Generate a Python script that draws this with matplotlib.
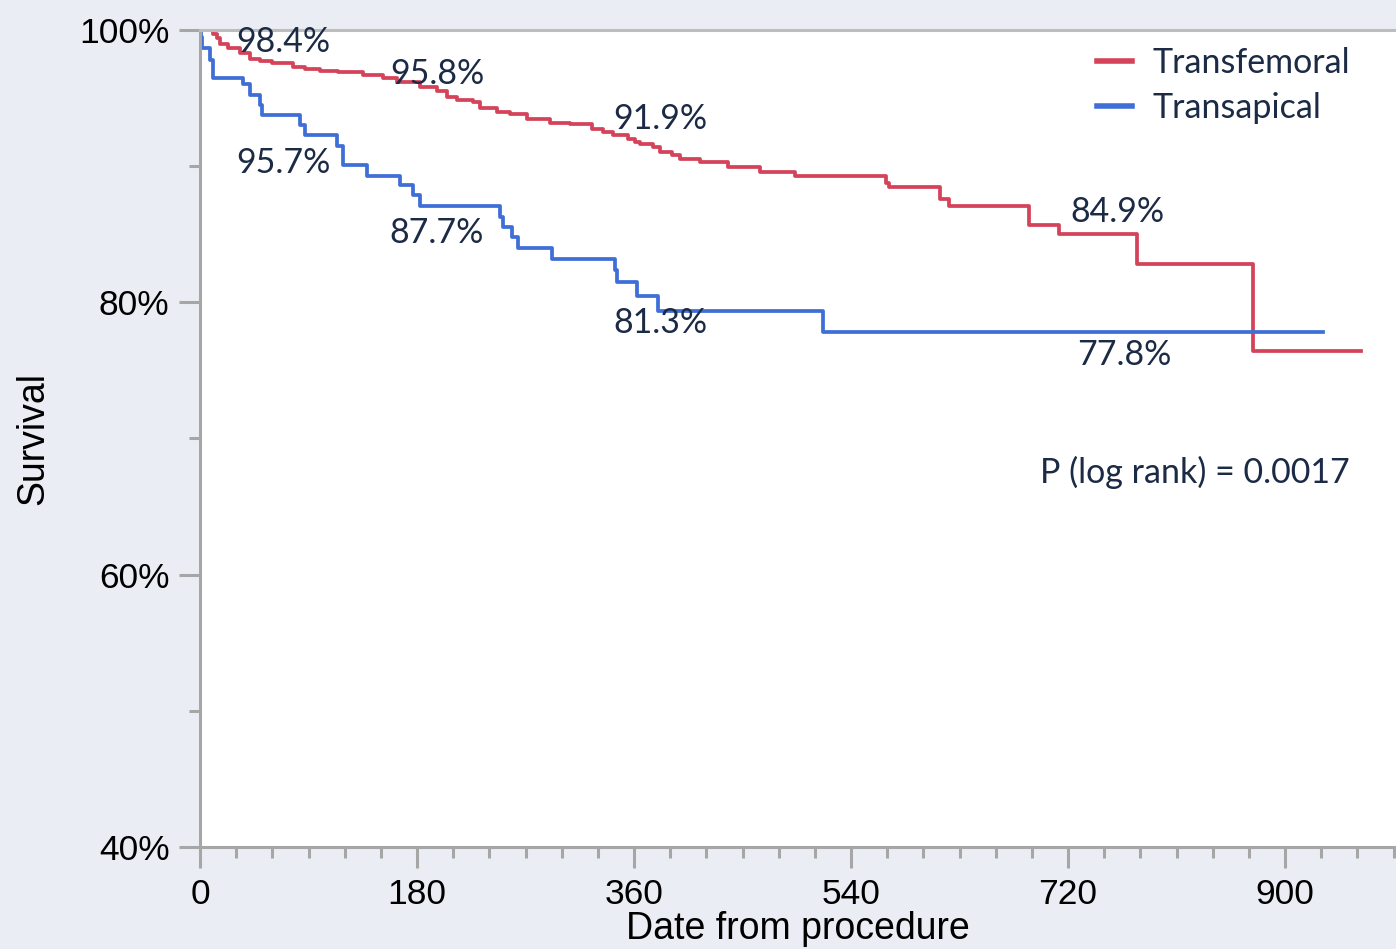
import numpy as np
import matplotlib
matplotlib.use("Agg")
import matplotlib.pyplot as plt
from matplotlib.ticker import MultipleLocator, FixedLocator

# Kaplan-Meier steps (days, survival %)
tf_days = [0, 10.8, 13.9, 16.6, 23.2, 33.2, 41.5, 49.8, 59.7, 77.1, 87.1, 99.5,
           114.5, 135.2, 151.8, 163.4, 182.5, 196.6, 204.9, 213.2, 226.4, 232.3,
           246.4, 257.1, 271.2, 290.3, 306.9, 325.2, 334.3, 342.6, 355.0, 360.8,
           365.0, 375.7, 381.6, 391.5, 398.1, 414.7, 438.0, 464.5, 493.5, 569.0,
           571.5, 613.8, 621.3, 687.6, 712.5, 777.0, 873.4, 963.0]
tf_surv = [100, 99.7, 99.4, 99.0, 98.7, 98.3, 97.9, 97.7, 97.55, 97.3, 97.1, 97.0,
           96.9, 96.7, 96.5, 96.2, 95.8, 95.5, 95.1, 94.85, 94.7, 94.3,
           94.0, 93.8, 93.5, 93.2, 93.1, 92.7, 92.5, 92.3, 92.0, 91.8,
           91.6, 91.4, 91.05, 90.8, 90.5, 90.3, 89.95, 89.6, 89.3, 88.75,
           88.5, 87.6, 87.1, 85.7, 85.0, 82.8, 76.4, 76.4]

ta_days = [0, 0.8, 1.7, 8.3, 10.4, 35.7, 41.5, 49.8, 51.4, 82.9, 87.1, 113.6,
           118.6, 138.5, 165.9, 176.7, 182.5, 248.8, 251.3, 258.8, 263.8, 292.0,
           344.2, 345.9, 362.5, 379.9, 516.8, 931.5]
ta_surv = [100, 99.5, 98.7, 97.8, 96.5, 96.0, 95.2, 94.5, 93.75, 93.0, 92.3, 91.5,
           90.1, 89.3, 88.6, 87.9, 87.1, 86.3, 85.5, 84.8, 84.0, 83.2,
           82.4, 81.5, 80.5, 79.4, 77.8, 77.8]

# annotation labels: (text, day, survival)
tf_labels = [("98.4%", 69, 99.1), ("95.8%", 197, 96.8), ("91.9%", 382, 93.5), ("84.9%", 761, 86.6)]
ta_labels = [("95.7%", 69, 90.2), ("87.7%", 196, 85.1), ("81.3%", 382, 78.5), ("77.8%", 767, 76.1)]
p_text = "P (log rank) = 0.0017"

red = "#d4435a"
blue = "#3f6fd6"
grey = "#a6a6a6"
navy = "#1b2a45"

fig = plt.figure(figsize=(13.96, 9.49), dpi=100, facecolor="#eaedf3")
ax = fig.add_axes([200 / 1396, 1 - 847 / 949, 1 - 200 / 1396, (847 - 30) / 949])
ax.set_facecolor("white")

ax.step(tf_days, tf_surv, where="post", color=red, lw=2.7, label="Transfemoral")
ax.step(ta_days, ta_surv, where="post", color=blue, lw=2.7, label="Transapical")

ax.set_xlim(0, 992)
ax.set_ylim(40, 100)

ax.xaxis.set_major_locator(FixedLocator([0, 180, 360, 540, 720, 900]))
ax.xaxis.set_minor_locator(MultipleLocator(30))
ax.yaxis.set_major_locator(FixedLocator([40, 60, 80, 100]))
ax.yaxis.set_minor_locator(FixedLocator([50, 70, 90]))
ax.set_yticklabels(["40%", "60%", "80%", "100%"])

ax.tick_params(axis="both", which="major", length=15, width=2.2, color=grey,
               labelsize=25.5, pad=7, labelcolor="black")
ax.tick_params(axis="both", which="minor", length=8, width=2.2, color=grey)
for lab in ax.get_xticklabels() + ax.get_yticklabels():
    lab.set_fontfamily("Liberation Sans")

for side in ["left", "bottom", "top"]:
    ax.spines[side].set_color(grey)
    ax.spines[side].set_linewidth(2.2)
ax.spines["top"].set_color("#bdbdbd")
ax.spines["right"].set_visible(False)

ax.set_ylabel("Survival", fontsize=27, family="Liberation Sans", labelpad=20)
ax.set_xlabel("Date from procedure", fontsize=27, family="Liberation Sans", labelpad=0)

for txt, x, y in tf_labels + ta_labels:
    ax.text(x, y, txt, fontsize=24.5, family="Lato", color=navy, ha="center", va="center")
ax.text(697, 67.5, p_text, fontsize=24.5, family="Lato", color=navy, ha="left", va="center")

leg = ax.legend(loc="upper left", bbox_to_anchor=(0.724, 1.017), frameon=False,
                prop={"family": "Lato", "size": 24.5}, handlelength=1.05,
                handletextpad=0.6, labelspacing=0.4)
for t in leg.get_texts():
    t.set_color(navy)
for h in leg.get_lines():
    h.set_linewidth(4)

fig.savefig("out.png", dpi=100, facecolor=fig.get_facecolor())
